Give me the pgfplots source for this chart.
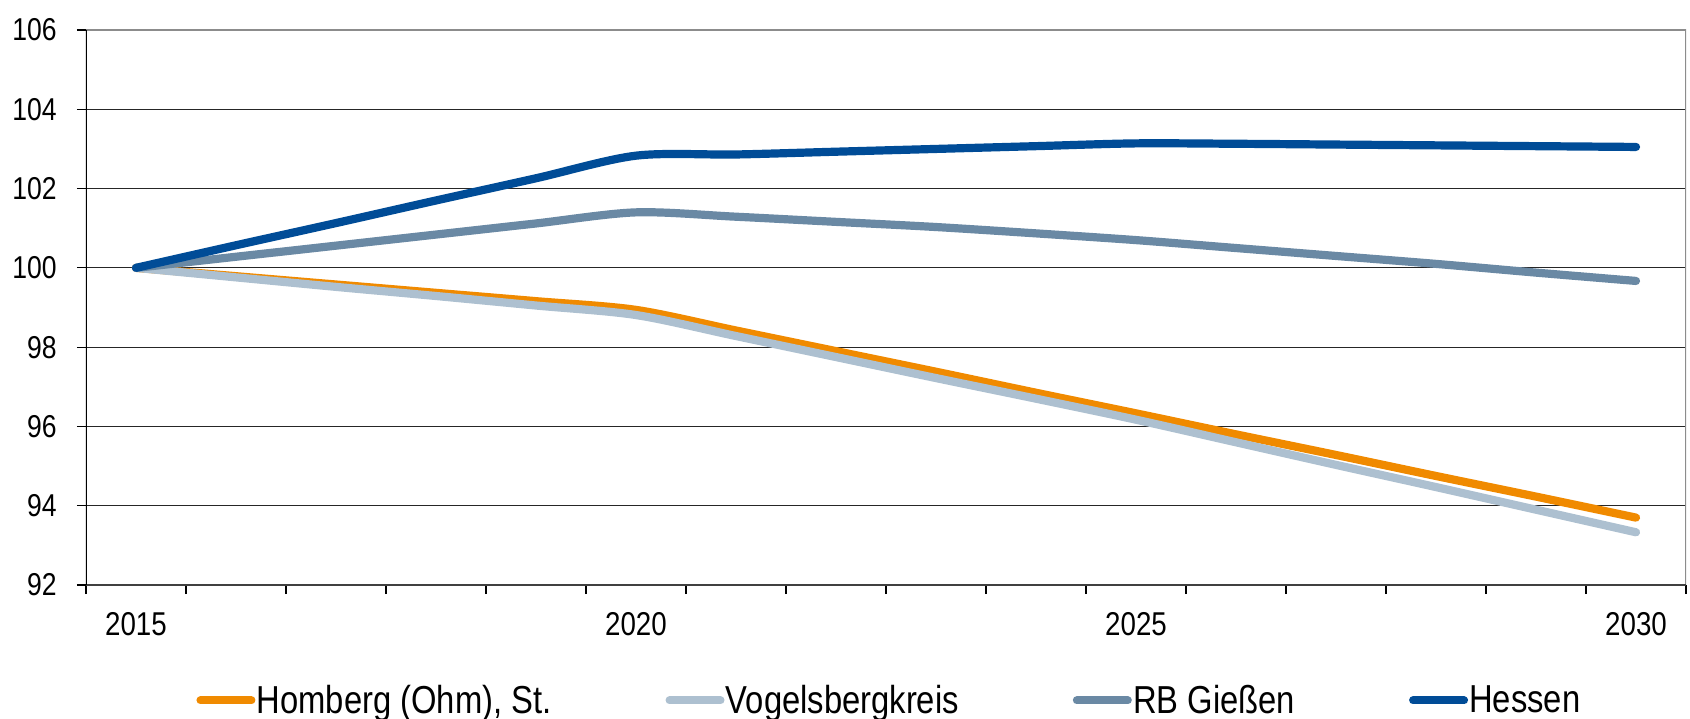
\documentclass[border=0pt]{standalone}
\usepackage{fontspec}
\setmainfont{Liberation Sans}[FakeStretch=0.84]
\usepackage{pgfplots}
\usepackage{pgfplotstable}
\pgfplotsset{compat=1.18}

\definecolor{homberg}{RGB}{240,138,0}
\definecolor{vogels}{RGB}{173,192,208}
\definecolor{rbg}{RGB}{106,137,164}
\definecolor{hessen}{RGB}{0,76,151}

\pgfplotstableread{
k hom vog rb hes
0 100 100 100 100
1 99.79 99.76 100.28 100.57
2 99.58 99.52 100.56 101.13
3 99.37 99.29 100.84 101.70
4 99.16 99.05 101.12 102.26
5 98.94 98.81 101.40 102.83
6 98.42 98.28 101.29 102.86
7 97.90 97.75 101.16 102.93
8 97.38 97.22 101.03 103.00
9 96.85 96.70 100.87 103.07
10 96.33 96.17 100.70 103.14
11 95.80 95.60 100.50 103.13
12 95.28 95.03 100.30 103.11
13 94.75 94.47 100.10 103.09
14 94.23 93.90 99.88 103.07
15 93.70 93.33 99.67 103.05
}\datatable

\begin{document}
\begin{tikzpicture}
\begin{axis}[
  name=ax, at={(0,0)}, anchor=south west, scale only axis,
  width=800pt, height=277.5pt,
  xmin=-0.5, xmax=15.5, ymin=92, ymax=106,
  ytick={92,94,...,106},
  xtick={-0.5,0.5,...,15.5}, xticklabels={},
  extra x ticks={0,5,10,15},
  extra x tick labels={2015,2020,2025,2030},
  extra x tick style={major tick length=0pt, xmajorgrids=false},
  xtick pos=bottom, ytick pos=left,
  tick align=outside, major tick length=4.5pt,
  tick style={black, line width=0.6pt},
  ymajorgrids, major grid style={black!85, line width=0.55pt},
  axis line style={draw=none},
  /pgf/number format/assume math mode=true,
  yticklabel style={font=\fontsize{15.8}{18}\selectfont, anchor=east, inner sep=0pt, xshift=-10pt},
  xticklabel style={font=\fontsize{16.5}{19}\selectfont, anchor=north, inner sep=0pt, yshift=-13.5pt},
  legend columns=4,
  legend style={at={(0.5015,-0.208)}, anchor=center, draw=none, fill=none,
    font=\fontsize{19.5}{23}\selectfont, nodes={inner sep=0pt},
    column sep=0.6pt, /tikz/every even column/.append style={column sep=57pt}},
  legend image code/.code={\draw[#1, line width=4pt, line cap=round] (2pt,0pt) -- (27.5pt,0pt);},
  every axis plot/.append style={line width=4.1pt, line cap=round, line join=round, smooth, tension=0.5},
]
\addplot[color=homberg] table[x=k, y=hom] {\datatable};
\addlegendentry{Homberg (Ohm), St.}
\addplot[color=vogels] table[x=k, y=vog] {\datatable};
\addlegendentry{Vogelsbergkreis}
\addplot[color=rbg] table[x=k, y=rb] {\datatable};
\addlegendentry{RB Gießen}
\addplot[color=hessen] table[x=k, y=hes] {\datatable};
\addlegendentry{Hessen}
\draw[black!45, line width=1.2pt] (rel axis cs:0,1) -- (rel axis cs:1,1) -- (rel axis cs:1,0);
\draw[black!75, line width=0.9pt] (rel axis cs:1,0) -- (rel axis cs:0,0);
\draw[black, line width=0.7pt] (rel axis cs:0,0) -- (rel axis cs:0,1);
\end{axis}
\pgfresetboundingbox
\path[use as bounding box] (-43pt,-66.5pt) rectangle (802pt,292.5pt);
\end{tikzpicture}
\end{document}
